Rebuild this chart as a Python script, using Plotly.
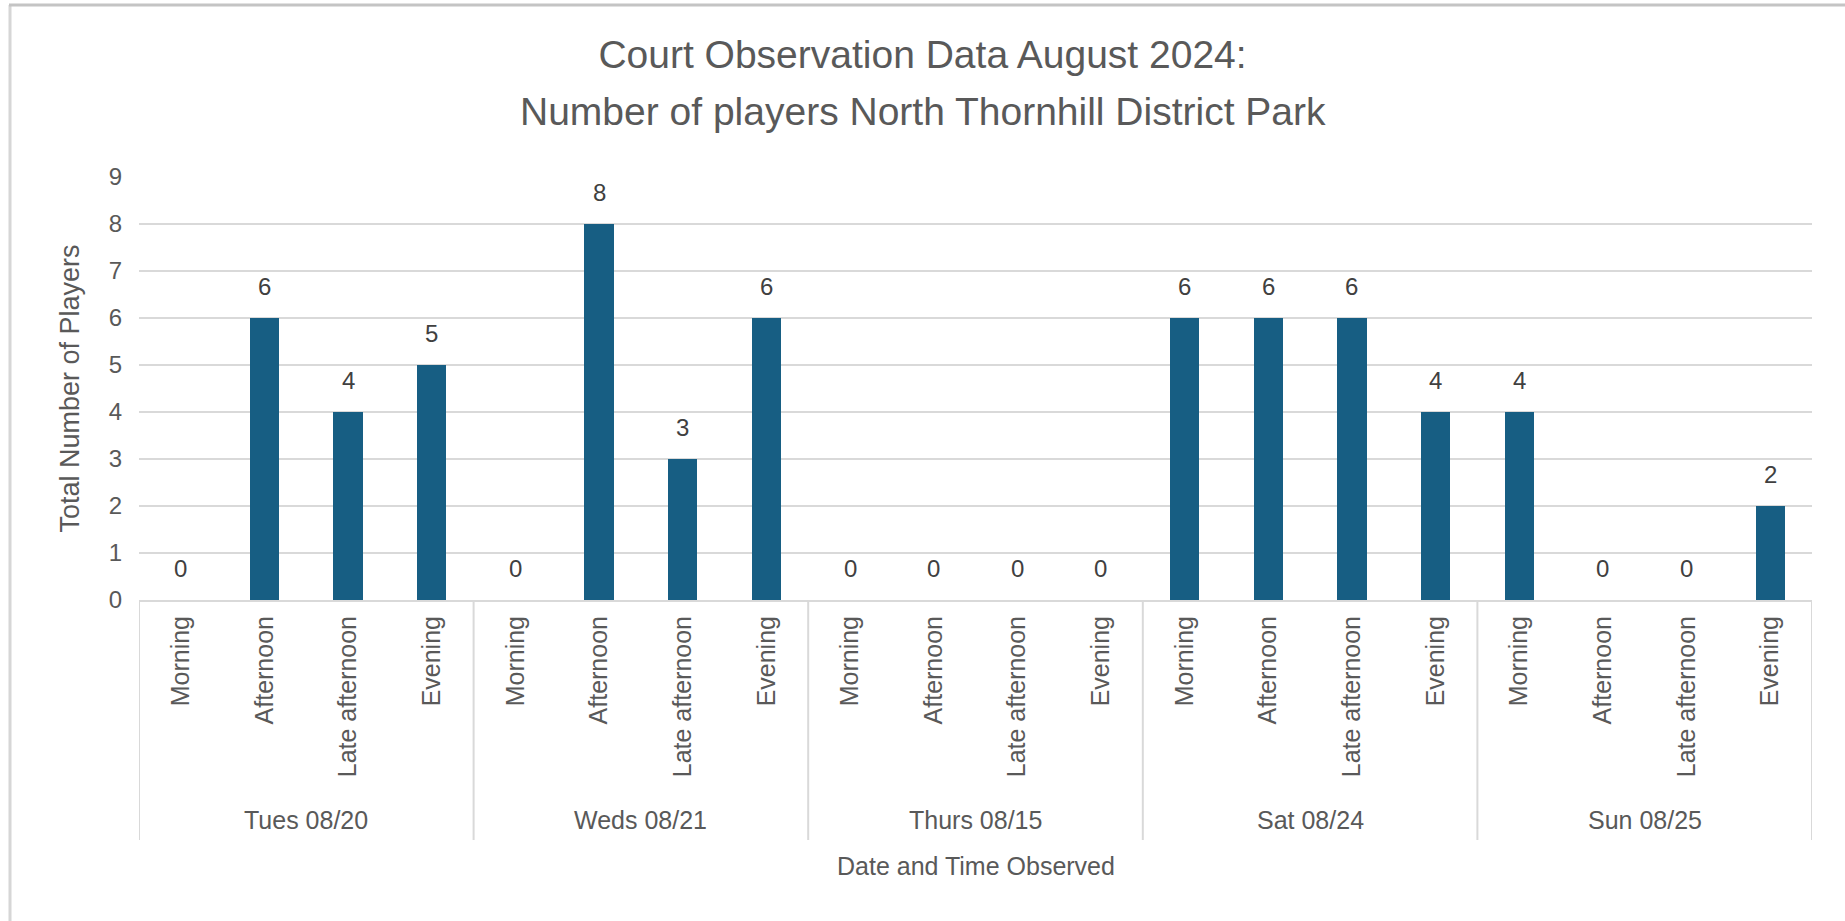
import plotly.graph_objects as go

days = ["Tues 08/20", "Weds 08/21", "Thurs 08/15", "Sat 08/24", "Sun 08/25"]
times = ["Morning", "Afternoon", "Late afternoon", "Evening"]
players = [
    [0, 6, 4, 5],
    [0, 8, 3, 6],
    [0, 0, 0, 0],
    [6, 6, 6, 4],
    [4, 0, 0, 2],
]
y_ticks = [0, 1, 2, 3, 4, 5, 6, 7, 8, 9]

title_line1 = "Court Observation Data August 2024:"
title_line2 = "Number of players North Thornhill District Park"
x_title = "Date and Time Observed"
y_title = "Total Number of Players"

W, H = 1845, 921
L, R, T, B = 139, 33, 177, 321
plot_w = W - L - R
plot_h = H - T - B

BAR = "#175E83"
GRID = "#D9D9D9"
TXT = "#595959"
FONT = "Liberation Sans, Arial, sans-serif"

# flatten
xs, ys, labels = [], [], []
for d_i, day in enumerate(days):
    for t_i, t in enumerate(times):
        xs.append(d_i * len(times) + t_i)
        ys.append(players[d_i][t_i])
        labels.append(t)

fig = go.Figure()
fig.add_trace(go.Bar(x=xs, y=ys, width=0.35, marker=dict(color=BAR, line=dict(width=0)),
                     hoverinfo="y"))

# value labels
for x, y in zip(xs, ys):
    fig.add_annotation(x=x, y=y, xref="x", yref="y", text=str(y), showarrow=False,
                       yanchor="bottom", yshift=16,
                       font=dict(family=FONT, size=24, color="#404040"))

def py_to_paper(py):
    return (H - B - py) / plot_h

def px_to_paper(px):
    return (px - L) / plot_w

n_per = len(times)
# group dividers
for k in range(len(days) + 1):
    xb = k * n_per - 0.5
    fig.add_shape(type="line", xref="x", yref="paper", x0=xb, x1=xb,
                  y0=0, y1=py_to_paper(840), line=dict(color=GRID, width=2))

# day labels
for d_i, day in enumerate(days):
    fig.add_annotation(x=d_i * n_per + (n_per - 1) / 2, y=py_to_paper(820),
                       xref="x", yref="paper", text=day, showarrow=False,
                       xanchor="center", yanchor="middle",
                       font=dict(family=FONT, size=25, color=TXT))

# second title line
fig.add_annotation(x=px_to_paper(W / 2), y=py_to_paper(112), xref="paper", yref="paper",
                   text=title_line2, showarrow=False, xanchor="center", yanchor="middle",
                   font=dict(family=FONT, size=39, color=TXT))

# x axis title
fig.add_annotation(x=0.5, y=py_to_paper(866), xref="paper", yref="paper",
                   text=x_title, showarrow=False, xanchor="center", yanchor="middle",
                   font=dict(family=FONT, size=25, color=TXT))
# y axis title
fig.add_annotation(x=px_to_paper(69), y=0.5, xref="paper", yref="paper",
                   text=y_title, showarrow=False, textangle=-90,
                   xanchor="center", yanchor="middle",
                   font=dict(family=FONT, size=27, color=TXT))

# chart border (left and top edges visible)
fig.add_shape(type="line", xref="paper", yref="paper",
              x0=px_to_paper(10), x1=px_to_paper(10), y0=py_to_paper(5), y1=py_to_paper(925),
              line=dict(color="#D6D6D6", width=3))
fig.add_shape(type="line", xref="paper", yref="paper",
              x0=px_to_paper(9), x1=px_to_paper(1850), y0=py_to_paper(5), y1=py_to_paper(5),
              line=dict(color="#C4C4C4", width=3))

fig.update_layout(
    width=W, height=H,
    margin=dict(l=L, r=R, t=T, b=B, autoexpand=False),
    paper_bgcolor="white", plot_bgcolor="white",
    showlegend=False,
    bargap=0,
    title=dict(text=title_line1, x=0.5, xanchor="center", xref="container",
               y=1 - 54 / H, yref="container", yanchor="middle",
               font=dict(family=FONT, size=39, color=TXT)),
    xaxis=dict(range=[-0.5, len(xs) - 0.5], tickmode="array", tickvals=xs, ticktext=labels,
               tickangle=-90, ticks="", showgrid=False, zeroline=False,
               showline=True, linecolor=GRID, linewidth=2,
               ticklabelstandoff=4,
               tickfont=dict(family=FONT, size=25, color=TXT)),
    yaxis=dict(range=[0, 9], tickmode="array", tickvals=y_ticks, ticks="",
               showgrid=True, gridcolor=GRID, gridwidth=2, zeroline=False,
               showline=False, ticklabelstandoff=16,
               tickfont=dict(family=FONT, size=24, color=TXT)),
)

fig.write_html("out.html", config={"displayModeBar": False},
               post_script="document.body.style.margin='0';")
